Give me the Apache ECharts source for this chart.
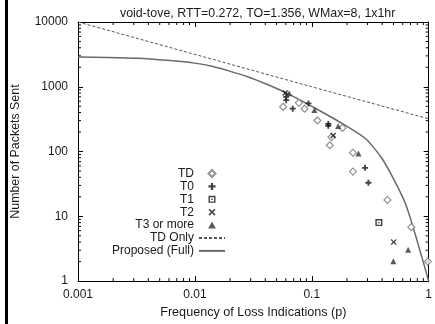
<!DOCTYPE html>
<html><head><meta charset="utf-8">
<script src="https://cdn.jsdelivr.net/npm/echarts@6/dist/echarts.min.js"></script>
<style>html,body{margin:0;padding:0;background:#fff}#c{width:435px;height:324px}</style>
</head><body><div id="c"></div>
<script>
// ---- data ----
const titleText = 'void-tove, RTT=0.272, TO=1.356, WMax=8, 1x1hr';
const xName = 'Frequency of Loss Indications (p)';
const yName = 'Number of Packets Sent';
const xMinorTicks = [0.002,0.003,0.004,0.005,0.006,0.007,0.008,0.009,
                     0.02,0.03,0.04,0.05,0.06,0.07,0.08,0.09,
                     0.2,0.3,0.4,0.5,0.6,0.7,0.8,0.9];
const yMinorTicks = [2,3,4,5,6,7,8,9,20,30,40,50,60,70,80,90,
                     200,300,400,500,600,700,800,900,2000,3000,4000,5000,6000,7000,8000,9000];
const seriesTD = [[0.0569,491],[0.0776,565],[0.0867,459],[0.1117,302],[0.1476,167],[0.1426,125],
                  [0.183,232],[0.225,96],[0.225,49],[0.444,17.9],[0.711,6.8],[0.984,2.0]];
const seriesT0 = [[0.0604,620],[0.0604,700],[0.0687,459],[0.0937,553],[0.1384,267],[0.1384,250],[0.286,56],[0.305,33]];
const seriesT1 = [[0.375,8.0]];
const seriesT2 = [[0.0592,800],[0.1524,177],[0.502,4.0]];
const seriesT3 = [[0.064,791],[0.1054,438],[0.168,249],[0.251,93],[0.667,3.04],[0.499,2.03]];
const tdOnly = [[0.001,10000],[0.1,1000],[1,320]];
const proposed = [[0.001,2890],[0.00179,2843],[0.0032,2762],[0.00575,2560],[0.0103,2297],[0.0143,2057],
                  [0.0195,1758],[0.0282,1428],[0.0417,1082],[0.0615,791],[0.11,454],[0.197,249],
                  [0.291,156],[0.39,83],[0.489,41],[0.634,15.6],[0.785,4.6],[1,1]];

const FONT = 'Arial, "Liberation Sans", sans-serif';
const TXT = '#1a1a1a';
const chart = echarts.init(document.getElementById('c'), null, {renderer:'canvas'});

const plusPath = 'path://M3.5,0H6.5V3.5H10V6.5H6.5V10H3.5V6.5H0V3.5H3.5Z';
const boxDotPath = 'path://M0,0H10V10H0Z M2,2V8H8V2Z M4,4H6V6H4Z';
const crossPath = 'path://M0,1.6L1.6,0L5,3.4L8.4,0L10,1.6L6.6,5L10,8.4L8.4,10L5,6.6L1.6,10L0,8.4L3.4,5Z';
const diamondPath = 'path://M5,0L10,5L5,10L0,5Z';
const trianglePath = 'path://M5,0L10,9L0,9Z';

function xTick(params, api){
  const v = api.value(0);
  const b = api.coord([v, 1]), t = api.coord([v, 10000]);
  return {type:'group', children:[
    {type:'line', shape:{x1:b[0],y1:b[1],x2:b[0],y2:b[1]-3}, style:{stroke:'#000',lineWidth:1}},
    {type:'line', shape:{x1:t[0],y1:t[1],x2:t[0],y2:t[1]+3}, style:{stroke:'#000',lineWidth:1}}
  ]};
}
function yTick(params, api){
  const v = api.value(1);
  const l = api.coord([0.001, v]), r = api.coord([1, v]);
  return {type:'group', children:[
    {type:'line', shape:{x1:l[0],y1:l[1],x2:l[0]+3,y2:l[1]}, style:{stroke:'#000',lineWidth:1}},
    {type:'line', shape:{x1:r[0],y1:r[1],x2:r[0]-3,y2:r[1]}, style:{stroke:'#000',lineWidth:1}}
  ]};
}

const axisCommon = {
  type:'log', logBase:10,
  axisLine:{show:true, lineStyle:{color:'#000', width:1}},
  axisTick:{show:true, inside:true, length:5, lineStyle:{color:'#000'}},
  splitLine:{show:false}, minorTick:{show:false}
};

chart.setOption({
  animation:false,
  backgroundColor:'#fff',
  title:{text:titleText, left:115, top:3,
    textStyle:{fontFamily:FONT, fontSize:12.4, fontWeight:'normal', color:TXT}},
  graphic:[{type:'rect', left:5, top:0, shape:{width:3, height:324}, style:{fill:'#000'}}],
  grid:{left:78, right:2, top:22, bottom:37},
  legend:{
    orient:'vertical', align:'right', right:209, top:167.5,
    itemWidth:26, itemHeight:7, itemGap:0.9, padding:0, symbolKeepAspect:true,
    textStyle:{fontFamily:FONT, fontSize:12, color:TXT, lineHeight:12},
    data:[
      {name:'TD', icon:diamondPath},
      {name:'T0'},
      {name:'T1'},
      {name:'T2'},
      {name:'T3 or more', icon:trianglePath},
      {name:'TD Only', itemStyle:{opacity:0}},
      {name:'Proposed (Full)', itemStyle:{opacity:0}}
    ]
  },
  xAxis:[
    Object.assign({}, axisCommon, {min:0.001, max:1, position:'bottom',
      name:xName, nameLocation:'middle', nameGap:19,
      nameTextStyle:{fontFamily:FONT, fontSize:12.6, color:TXT},
      axisLabel:{fontFamily:FONT, fontSize:12, color:TXT, margin:8,
        formatter:v=>String(v)}}),
    Object.assign({}, axisCommon, {min:0.001, max:1, position:'top', axisLabel:{show:false}})
  ],
  yAxis:[
    Object.assign({}, axisCommon, {min:1, max:10000, position:'left',
      name:yName, nameLocation:'middle', nameGap:56, nameRotate:90,
      nameTextStyle:{fontFamily:FONT, fontSize:12.4, color:TXT},
      axisLabel:{fontFamily:FONT, fontSize:12, color:TXT, margin:10, formatter:v=>String(v)}}),
    Object.assign({}, axisCommon, {min:1, max:10000, position:'right', axisLabel:{show:false}})
  ],
  series:[
    {type:'custom', name:'xminor', renderItem:xTick, data:xMinorTicks.map(v=>[v,1]), silent:true, clip:false, z:1},
    {type:'custom', name:'yminor', renderItem:yTick, data:yMinorTicks.map(v=>[0.001,v]), silent:true, clip:false, z:1},
    {type:'line', name:'TD Only', data:tdOnly, symbol:'none', z:3,
      lineStyle:{color:'#555', width:1, type:[3,2]}, itemStyle:{color:'#555'}},
    {type:'line', name:'Proposed (Full)', data:proposed, symbol:'none', smooth:0.2, z:3,
      lineStyle:{color:'#6a6a6a', width:1.5}, itemStyle:{color:'#6a6a6a'}},
    {type:'scatter', name:'TD', data:seriesTD, symbol:diamondPath, symbolSize:7, z:4,
      itemStyle:{color:'#fff', borderColor:'#777', borderWidth:1.2}},
    {type:'scatter', name:'T0', data:seriesT0, symbol:plusPath, symbolSize:6, z:4,
      itemStyle:{color:'#111'}},
    {type:'scatter', name:'T1', data:seriesT1, symbol:boxDotPath, symbolSize:7, z:4,
      itemStyle:{color:'#111'}},
    {type:'scatter', name:'T2', data:seriesT2, symbol:crossPath, symbolSize:6, z:4,
      itemStyle:{color:'#111'}},
    {type:'scatter', name:'T3 or more', data:seriesT3, symbol:trianglePath, symbolSize:6, z:4,
      itemStyle:{color:'#333'}}
  ]
});
</script></body></html>
